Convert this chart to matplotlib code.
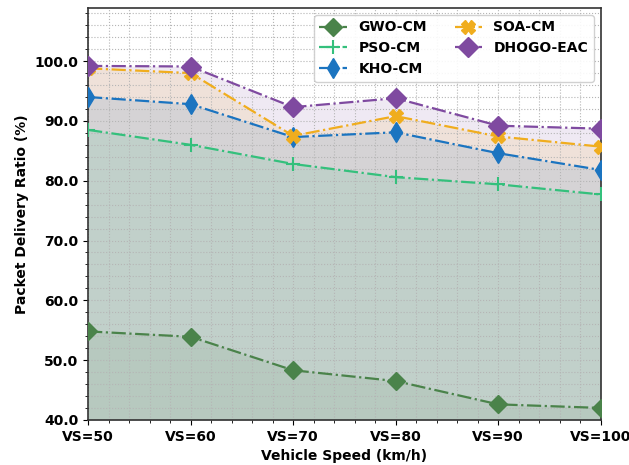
import matplotlib
matplotlib.use("Agg")
import matplotlib.pyplot as plt
from matplotlib.ticker import AutoMinorLocator
import numpy as np

categories = ["VS=50", "VS=60", "VS=70", "VS=80", "VS=90", "VS=100"]
gwo = [54.8, 53.9, 48.3, 46.5, 42.6, 42.0]
pso = [88.5, 86.0, 82.8, 80.6, 79.4, 77.7]
kho = [94.0, 92.8, 87.3, 88.1, 84.6, 81.8]
soa = [98.8, 98.0, 87.5, 90.8, 87.4, 85.7]
dhogo = [99.2, 99.1, 92.3, 93.8, 89.2, 88.7]

series = [
    ("GWO-CM", gwo, "#4a834a", "D", 9, 0.08),
    ("PSO-CM", pso, "#34c07c", "+", 10, 0.12),
    ("KHO-CM", kho, "#1b74c0", "d", 10, 0.12),
    ("SOA-CM", soa, "#f0ad1e", "X", 10, 0.12),
    ("DHOGO-EAC", dhogo, "#7f4aa0", "D", 10, 0.12),
]

fig = plt.figure(figsize=(6.29, 4.65), dpi=100)
ax = fig.add_axes([0.14, 0.097, 0.815, 0.886])
x = np.arange(len(categories))
# fills drawn from the top series down so the lower series sit on top
for i, (name, vals, col, mk, ms, a) in enumerate(reversed(series)):
    ax.fill_between(x, 40, vals, color=col, alpha=a, linewidth=0, zorder=1 + i * 0.01)
for name, vals, col, mk, ms, a in series:
    ax.plot(x, vals, linestyle="-.", color=col, marker=mk, markersize=ms,
            linewidth=1.6, label=name, zorder=3,
            markeredgewidth=1.5 if mk == "+" else 1.0)

ax.set_xlim(0, len(categories) - 1)
ax.set_ylim(40, 108.9)
ax.set_xticks(x)
ax.set_xticklabels(categories, fontweight="bold", fontsize=10)
ax.set_yticks(np.arange(40, 101, 10))
ax.set_yticklabels([f"{v:.1f}" for v in np.arange(40, 101, 10)], fontweight="bold", fontsize=10)
ax.xaxis.set_minor_locator(AutoMinorLocator(5))
ax.yaxis.set_minor_locator(AutoMinorLocator(5))
ax.grid(which="both", linestyle=":", color="#b5b5b5", linewidth=0.8, zorder=2)
ax.set_xlabel("Vehicle Speed (km/h)", fontweight="bold", fontsize=10)
ax.set_ylabel("Packet Delivery Ratio (%)", fontweight="bold", fontsize=10)
for s in ax.spines.values():
    s.set_color("#333333")
    s.set_linewidth(1.2)
ax.legend(loc="upper right", ncol=2, prop={"weight": "bold", "size": 10},
          framealpha=0.9, markerscale=1.0)
fig.savefig("out.png", dpi=100)
